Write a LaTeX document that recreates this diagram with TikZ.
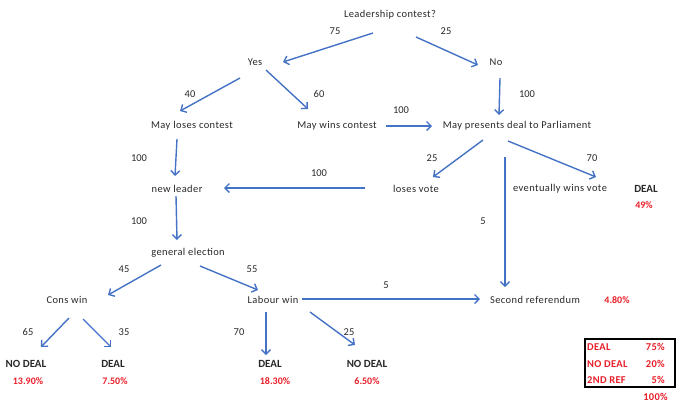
\documentclass[tikz,border=0pt]{standalone}
\usepackage{fontspec}
\setmainfont{Carlito}
\usetikzlibrary{arrows.meta}
\definecolor{arrblue}{RGB}{68,114,196}
\definecolor{redpct}{RGB}{232,30,40}
\definecolor{txt}{RGB}{40,40,40}
\tikzset{
  lbl/.style={font=\fontsize{10.5}{12}\selectfont\addfontfeatures{LetterSpace=4}, text=txt, inner sep=1pt},
  num/.style={font=\fontsize{10.5}{12}\selectfont, text=txt, inner sep=1pt},
  outc/.style={font=\bfseries\fontsize{11}{12}\selectfont, text=txt, inner sep=1pt},
  pct/.style={font=\bfseries\fontsize{10}{12}\selectfont, text=redpct, inner sep=1pt},
  tbl/.style={font=\bfseries\fontsize{10.5}{12}\selectfont\addfontfeatures{LetterSpace=3}, text=redpct, inner sep=1pt},
  arr/.style={draw=arrblue, line width=1.4pt, -{Straight Barb[length=4.5pt,width=9pt,line width=1.4pt]}},
  ln/.style={draw=arrblue, line width=1.4pt}
}
\begin{document}
\begin{tikzpicture}[x=1bp,y=-1bp]
\useasboundingbox (0,0) rectangle (677,403);
% nodes
\node[lbl] (lc) at (390,15) {Leadership contest?};
\node[lbl] (yes) at (255,62) {Yes};
\node[lbl] (no) at (496,62) {No};
\node[lbl] (mlc) at (192,126) {May loses contest};
\node[lbl] (mwc) at (337,126) {May wins contest};
\node[lbl] (mpd) at (517,126) {May presents deal to Parliament};
\node[lbl] (lv) at (416,189) {loses vote};
\node[lbl] (ewv) at (560,189) {eventually wins\ vote};
\node[outc] (d1) at (646,189) {DEAL};
\node[pct] (p1) at (644,205) {49\%};
\node[lbl] (nl) at (177,189) {new leader};
\node[lbl] (ge) at (188,253) {general election};
\node[lbl] (cw) at (67,300) {Cons win};
\node[lbl] (lw) at (273,300) {Labour win};
\node[lbl] (sr) at (535,300) {Second referendum};
\node[pct] (p2) at (617,300) {4.80\%};
\node[outc] (o1) at (26,364) {NO DEAL};
\node[pct] (p3) at (28,381) {13.90\%};
\node[outc] (o2) at (113,364) {DEAL};
\node[pct] (p4) at (115,381) {7.50\%};
\node[outc] (o3) at (270,364) {DEAL};
\node[pct] (p5) at (275,381) {18.30\%};
\node[outc] (o4) at (367,364) {NO DEAL};
\node[pct] (p6) at (367,381) {6.50\%};
% coordinates for connector ends
\coordinate (a1s) at (373,33); \coordinate (a1e) at (283,62);
\coordinate (a2s) at (416,37); \coordinate (a2e) at (478,65);
\coordinate (a3s) at (240,78); \coordinate (a3e) at (180,111);
\coordinate (a4s) at (266,70); \coordinate (a4e) at (308,109);
\coordinate (a5s) at (500,78); \coordinate (a5e) at (499,115);
\coordinate (a6s) at (386,126); \coordinate (a6e) at (432,126);
\coordinate (a7s) at (177,139); \coordinate (a7e) at (175,176);
\coordinate (a8s) at (483,140); \coordinate (a8e) at (433,177);
\coordinate (a9s) at (508,141); \coordinate (a9e) at (596,177);
\coordinate (a10s) at (505,157); \coordinate (a10e) at (505,287);
\coordinate (a11s) at (365,188); \coordinate (a11e) at (224,188);
\coordinate (a12s) at (176,196); \coordinate (a12e) at (177,240);
\coordinate (a13s) at (161,265); \coordinate (a13e) at (108,295);
\coordinate (a14s) at (200,266); \coordinate (a14e) at (258,290);
\coordinate (a15s) at (302,299); \coordinate (a15e) at (480,299);
\coordinate (a16s) at (69,318); \coordinate (a16e) at (41,347);
\coordinate (a17s) at (83,319); \coordinate (a17e) at (111,347);
\coordinate (a18s) at (266,312); \coordinate (a18e) at (266,355);
\coordinate (a19s) at (310,312); \coordinate (a19e) at (355,345);
\foreach \i in {1,...,19} {\draw[arr] (a\i s) -- (a\i e);}
% numbers
\node[num] at (335,31) {75};
\node[num] at (446,31) {25};
\node[num] at (190,94) {40};
\node[num] at (319,94) {60};
\node[num] at (527,94) {100};
\node[num] at (401,110) {100};
\node[num] at (139,158) {100};
\node[num] at (432,158) {25};
\node[num] at (592,158) {70};
\node[num] at (319,173) {100};
\node[num] at (483,221) {5};
\node[num] at (139,221) {100};
\node[num] at (124,269) {45};
\node[num] at (252,269) {55};
\node[num] at (386,285) {5};
\node[num] at (28,332) {65};
\node[num] at (124,332) {35};
\node[num] at (239,332) {70};
\node[num] at (349,332) {25};
% summary box
\draw[black, line width=1.8pt] (585,339) rectangle (675,387);
\node[tbl, anchor=west] at (586,347) {DEAL};
\node[tbl, anchor=west] at (586,364) {NO DEAL};
\node[tbl, anchor=west] at (586,380) {2ND REF};
\node[tbl, anchor=east] at (666,347) {75\%};
\node[tbl, anchor=east] at (666,364) {20\%};
\node[tbl, anchor=east] at (666,380) {5\%};
\node[tbl, anchor=east] at (669,397) {100\%};
\end{tikzpicture}
\end{document}
